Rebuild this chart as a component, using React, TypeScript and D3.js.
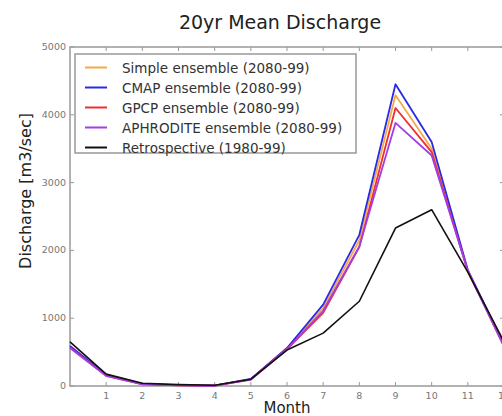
import React from "react";
import * as d3 from "d3";

const months = [0, 1, 2, 3, 4, 5, 6, 7, 8, 9, 10, 11, 12];
const xTicks = [1, 2, 3, 4, 5, 6, 7, 8, 9, 10, 11, 12];
const yTicks = [0, 1000, 2000, 3000, 4000, 5000];

const simpleEns = [580, 160, 30, 10, 5, 100, 550, 1150, 2150, 4290, 3500, 1700, 600];
const cmapEns = [590, 165, 32, 12, 6, 105, 560, 1200, 2230, 4450, 3600, 1710, 610];
const gpcpEns = [570, 150, 28, 10, 5, 95, 545, 1080, 2050, 4100, 3450, 1690, 590];
const aphroditeEns = [560, 150, 25, 8, 4, 95, 540, 1110, 2060, 3880, 3400, 1700, 580];
const retrospective = [650, 175, 40, 20, 10, 100, 530, 780, 1250, 2330, 2600, 1680, 650];

const seriesNames = [
  "Simple ensemble (2080-99)",
  "CMAP ensemble (2080-99)",
  "GPCP ensemble (2080-99)",
  "APHRODITE ensemble (2080-99)",
  "Retrospective (1980-99)",
];
const seriesValues = [simpleEns, cmapEns, gpcpEns, aphroditeEns, retrospective];
const seriesColors = ["#f5a84a", "#2a2ae6", "#ec3030", "#a33de6", "#111111"];

const W = 502;
const H = 416;
const font = "'DejaVu Sans', sans-serif";

export default function App() {
  const x = d3.scaleLinear().domain([0, 12]).range([70, 504]);
  const y = d3.scaleLinear().domain([0, 5000]).range([386, 47]);
  const line = d3
    .line<number>()
    .x((_, i) => x(months[i]))
    .y((d) => y(d));

  const axisColor = "#999";
  const tickColor = "#777";

  return (
    <svg
      width={W}
      height={H}
      style={{ position: "absolute", left: 0, top: 0, background: "#fff" }}
      fontFamily={font}
    >
      <rect x={0} y={0} width={W} height={H} fill="#fff" />
      <text x={280} y={29} textAnchor="middle" fontSize={19} fill="#222">
        20yr Mean Discharge
      </text>

      {/* frame */}
      <rect
        x={x(0)}
        y={y(5000)}
        width={x(12) - x(0)}
        height={y(0) - y(5000)}
        fill="none"
        stroke={axisColor}
        strokeWidth={1.5}
      />

      {/* x ticks */}
      {xTicks.map((t) => (
        <g key={"x" + t}>
          <line x1={x(t)} x2={x(t)} y1={y(0)} y2={y(0) - 4} stroke={axisColor} />
          <line x1={x(t)} x2={x(t)} y1={y(5000)} y2={y(5000) + 4} stroke={axisColor} />
          <text x={x(t)} y={y(0) + 13} textAnchor="middle" fontSize={9.5} fill={tickColor}>
            {t}
          </text>
        </g>
      ))}

      {/* y ticks */}
      {yTicks.map((t) => (
        <g key={"y" + t}>
          <line x1={x(0)} x2={x(0) + 4} y1={y(t)} y2={y(t)} stroke={axisColor} />
          <line x1={x(12)} x2={x(12) - 4} y1={y(t)} y2={y(t)} stroke={axisColor} />
          <text x={x(0) - 4} y={y(t) + 3} textAnchor="end" fontSize={9.5} fill={tickColor}>
            {t}
          </text>
        </g>
      ))}

      {/* lines */}
      {seriesValues.map((vals, i) => (
        <path
          key={"s" + i}
          d={line(vals) || ""}
          fill="none"
          stroke={seriesColors[i]}
          strokeWidth={i === 4 ? 1.6 : 1.8}
          strokeLinejoin="round"
        />
      ))}

      {/* legend */}
      <rect x={75} y={54} width={281} height={99} fill="#fff" stroke={axisColor} strokeWidth={1.5} />
      {seriesNames.map((n, i) => (
        <g key={"l" + i}>
          <line
            x1={85}
            x2={107}
            y1={67.5 + i * 20}
            y2={67.5 + i * 20}
            stroke={seriesColors[i]}
            strokeWidth={2}
          />
          <text x={122} y={72.5 + i * 20} fontSize={13.5} fill="#333">
            {n}
          </text>
        </g>
      ))}

      <text x={287} y={413} textAnchor="middle" fontSize={15} fill="#222">
        Month
      </text>
      <text
        transform={`translate(31, 191) rotate(-90)`}
        textAnchor="middle"
        fontSize={16}
        fill="#222"
      >
        Discharge [m3/sec]
      </text>
    </svg>
  );
}
